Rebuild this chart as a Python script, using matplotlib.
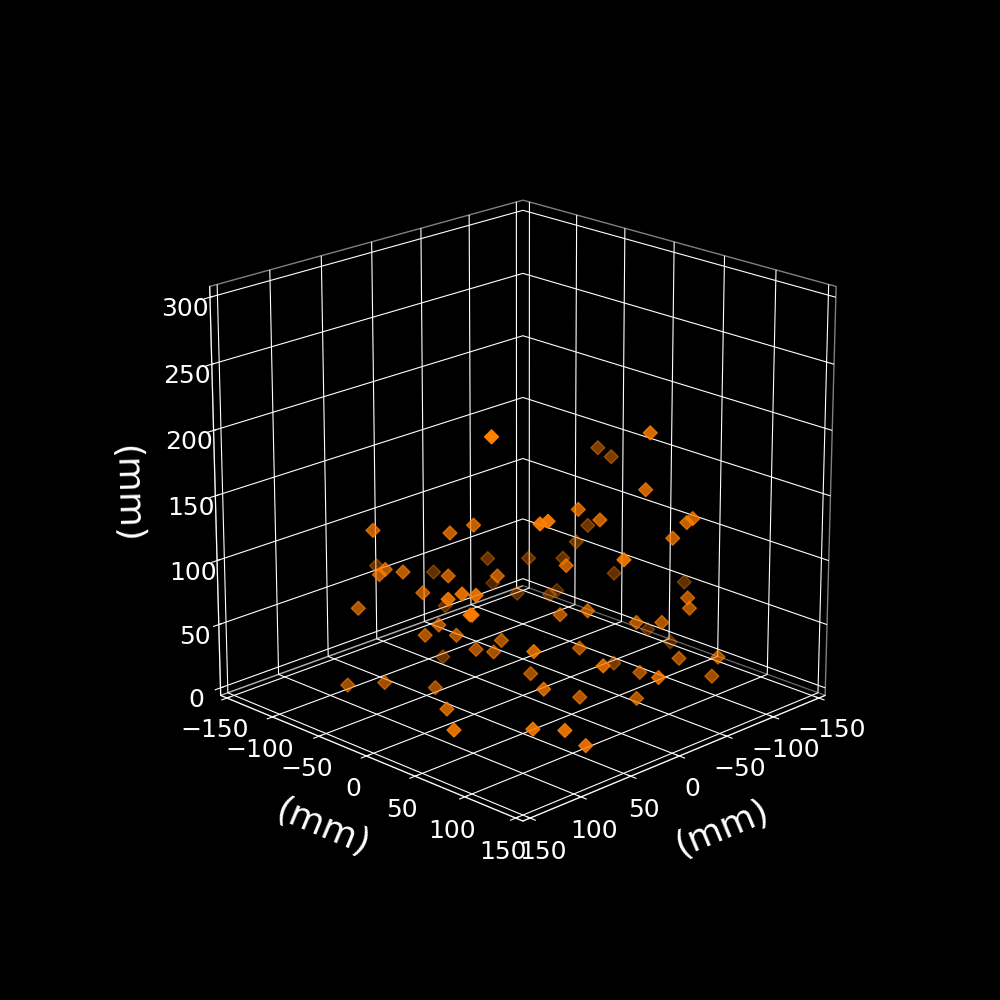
import matplotlib
matplotlib.use('Agg')
import matplotlib.pyplot as plt

# points (mm)
x_dim = [-87, -94, -82, -76, -51, -69, -29, 29, -1, -47, -96, -133, -81, -45, -62, -7, -114, -126, 15, -64]
y_dim = [-9, -2, -14, -20, -45, -27, -66, -125, -95, -79, 0, 37, -45, -51, -34, -89, 18, 30, -69, 31]
z_dim = [163, 156, 102, 89, 76, 76, 76, 70, 65, 48, 64, 57, 42, 48, 47, 38, 19, 9, 9, 10]

x_mid = [-44, -42, 96, 57, 45, -8, -19, -66, -63, -56, -2, 93, 90, 81, 58, 33, 71, 104, -64, -65, -13, 1,
         63, -38, -51, 70, 54, 31, 44, 35, -9, -60, -80, 16, -40, -77, 110, 91, 65, 7, -22, 90]
y_mid = [84, 82, -56, -17, -5, 48, 59, 106, 103, 96, 42, -53, -50, -41, -18, 7, -31, -64, 104, 105, 53, 39,
         -23, 78, 91, -30, -14, 9, -4, 5, 49, 100, 120, 24, 80, 117, -70, -51, -25, 65, 94, 13]
z_mid = [208, 165, 134, 132, 138, 150, 142, 143, 140, 128, 107, 100, 104, 102, 99, 99, 86, 74, 82, 74, 72, 69,
         61, 63, 63, 53, 53, 49, 42, 40, 43, 35, 36, 23, 24, 21, 14, 16, 12, 14, 13, 14]

x_near = [68, 44, 40, 2, 90, 83, 76, 79, 78, 47, 12, -16, 42, 113, 74, 58, 47]
y_near = [37, 61, 65, 103, 15, 22, 29, 26, 27, 58, 93, 121, 63, 44, 84, 100, 110]
z_near = [221, 156, 158, 129, 99, 103, 102, 87, 87, 59, 48, 39, 30, 14, 15, 14, 2]

xs = x_dim + x_mid + x_near
ys = y_dim + y_mid + y_near
zs = z_dim + z_mid + z_near

plt.style.use('dark_background')
fig = plt.figure(figsize=(10, 10), dpi=100)
ax = fig.add_subplot(111, projection='3d')

ax.scatter(xs, ys, zs, c='#ff7f00', marker='D', s=50)

ax.set_xlim(-157, 157)
ax.set_ylim(-157, 157)
ax.set_zlim(-6, 308)
ax.set_xticks([-150, -100, -50, 0, 50, 100, 150])
ax.set_yticks([-150, -100, -50, 0, 50, 100, 150])
ax.set_zticks([0, 50, 100, 150, 200, 250, 300])
ax.set_box_aspect((1, 1, 1), zoom=0.95)
ax.view_init(elev=20, azim=45)

for axis in (ax.xaxis, ax.yaxis, ax.zaxis):
    axis.pane.set_facecolor('black')
    axis.pane.set_edgecolor((1, 1, 1, 0.5))
    axis.set_rotate_label(True)

ax.tick_params(labelsize=18)
ax.set_xlabel('(mm)', fontsize=26, labelpad=18)
ax.set_ylabel('(mm)', fontsize=26, labelpad=18)
ax.set_zlabel('(mm)', fontsize=26, labelpad=21)

fig.savefig('out.png', dpi=100)
